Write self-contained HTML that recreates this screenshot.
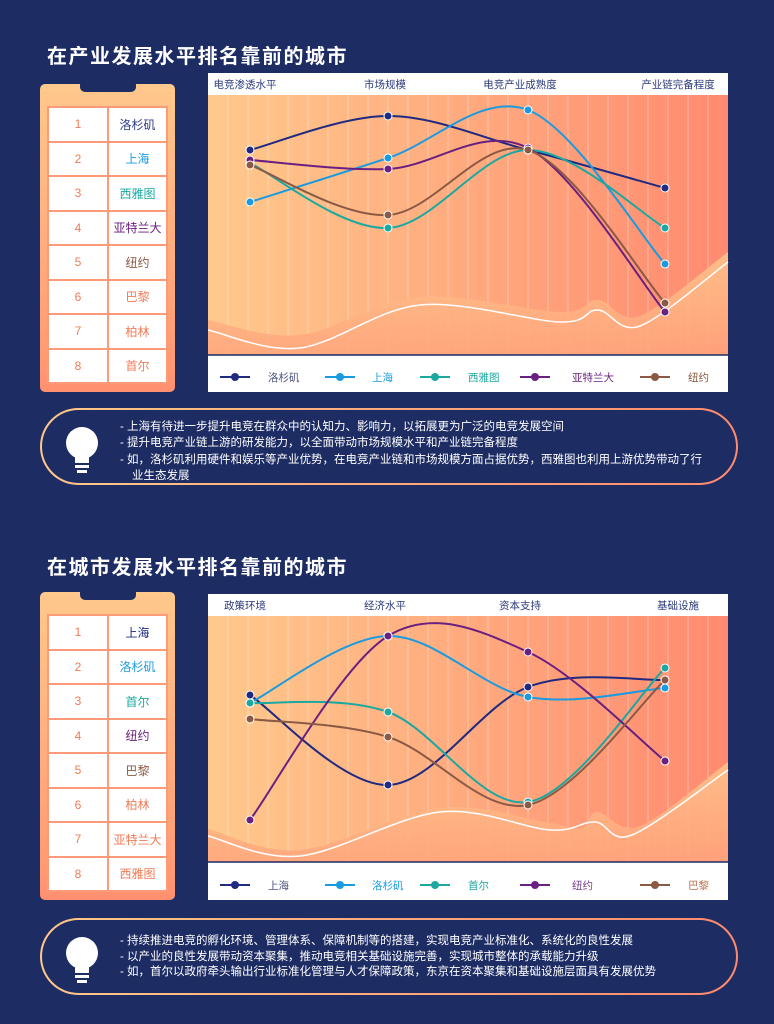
<!DOCTYPE html>
<html><head><meta charset="utf-8">
<style>
*{margin:0;padding:0;box-sizing:border-box}
body{width:774px;height:1024px;background:#1d2c63;font-family:"Liberation Sans","Noto Sans CJK SC",sans-serif;position:relative;overflow:hidden}
.title{position:absolute;left:47px;color:#fff;font-size:20px;font-weight:bold;letter-spacing:1.5px}
.card{position:absolute;left:40px;width:135px;border-radius:5px;background:linear-gradient(#ffc88c,#ff9a74 90%,#ff8f70)}
.notch{position:absolute;left:40px;top:0;width:56px;height:8px;background:#1d2c63;border-radius:0 0 5px 5px}
table{position:absolute;left:7px;top:22px;width:121px;border-collapse:collapse}
td{background:#fff;border:2px solid #ff9a78;height:34.5px;text-align:center;font-size:12px}
td.n{color:#f27a55;width:60px}
.box{position:absolute;left:40px;width:698px;height:77px;border-radius:39px;padding:2px;background:linear-gradient(90deg,#ffc88a,#ff8a6e)}
.box .in{width:100%;height:100%;border-radius:37px;background:#1d2c63;position:relative}
.box .tx{position:absolute;left:78px;top:9px;color:#fff;font-size:11.5px;line-height:16.3px;width:585px}
.tx div{padding-left:12px;text-indent:-12px}
</style></head><body>
<div class="title" style="top:40px">在产业发展水平排名靠前的城市</div>
<div class="card" style="top:84px;height:308px"><div class="notch"></div>
<table>
<tr><td class="n">1</td><td style="color:#2b3a8a">洛杉矶</td></tr>
<tr><td class="n">2</td><td style="color:#1a9be0">上海</td></tr>
<tr><td class="n">3</td><td style="color:#1ba8a0">西雅图</td></tr>
<tr><td class="n">4</td><td style="color:#6a2080">亚特兰大</td></tr>
<tr><td class="n">5</td><td style="color:#8b5a44">纽约</td></tr>
<tr><td class="n">6</td><td style="color:#f27a55">巴黎</td></tr>
<tr><td class="n">7</td><td style="color:#f27a55">柏林</td></tr>
<tr><td class="n">8</td><td style="color:#f27a55">首尔</td></tr>
</table></div>

<div class="title" style="top:551px">在城市发展水平排名靠前的城市</div>
<div class="card" style="top:592px;height:308px"><div class="notch"></div>
<table>
<tr><td class="n">1</td><td style="color:#1f2a80">上海</td></tr>
<tr><td class="n">2</td><td style="color:#1a9be0">洛杉矶</td></tr>
<tr><td class="n">3</td><td style="color:#1ba8a0">首尔</td></tr>
<tr><td class="n">4</td><td style="color:#6a2080">纽约</td></tr>
<tr><td class="n">5</td><td style="color:#8b5a44">巴黎</td></tr>
<tr><td class="n">6</td><td style="color:#f27a55">柏林</td></tr>
<tr><td class="n">7</td><td style="color:#f27a55">亚特兰大</td></tr>
<tr><td class="n">8</td><td style="color:#f27a55">西雅图</td></tr>
</table></div>

<svg id="sv" width="774" height="1024" style="position:absolute;left:0;top:0">
<defs>
<linearGradient id="bg" x1="0" x2="1"><stop offset="0" stop-color="#ffc98c"/><stop offset="1" stop-color="#ff8a70"/></linearGradient>
<linearGradient id="wv" x1="0" x2="0" y1="0" y2="1"><stop offset="0" stop-color="#ffc68c"/><stop offset="1" stop-color="#ffa47c"/></linearGradient>
</defs>
<g id="g"></g>
</svg>

<div class="box" style="top:408px"><div class="in">
<svg width="40" height="50" style="position:absolute;left:20px;top:15px"><circle cx="20" cy="18" r="16" fill="#fff"/><rect x="13" y="28" width="14" height="10" fill="#fff"/><rect x="13" y="40" width="14" height="3" fill="#fff"/><rect x="15" y="45" width="10" height="3" fill="#fff"/></svg>
<div class="tx"><div>- 上海有待进一步提升电竞在群众中的认知力、影响力，以拓展更为广泛的电竞发展空间</div><div>- 提升电竞产业链上游的研发能力，以全面带动市场规模水平和产业链完备程度</div><div>- 如，洛杉矶利用硬件和娱乐等产业优势，在电竞产业链和市场规模方面占据优势，西雅图也利用上游优势带动了行业生态发展</div></div>
</div></div>
<div class="box" style="top:918px"><div class="in">
<svg width="40" height="50" style="position:absolute;left:20px;top:15px"><circle cx="20" cy="18" r="16" fill="#fff"/><rect x="13" y="28" width="14" height="10" fill="#fff"/><rect x="13" y="40" width="14" height="3" fill="#fff"/><rect x="15" y="45" width="10" height="3" fill="#fff"/></svg>
<div class="tx" style="top:14px;line-height:15.5px;width:620px"><div>- 持续推进电竞的孵化环境、管理体系、保障机制等的搭建，实现电竞产业标准化、系统化的良性发展</div><div>- 以产业的良性发展带动资本聚集，推动电竞相关基础设施完善，实现城市整体的承载能力升级</div><div>- 如，首尔以政府牵头输出行业标准化管理与人才保障政策，东京在资本聚集和基础设施层面具有发展优势</div></div>
</div></div>

<script>
var g=document.getElementById('g'),h='';
var X=[250,388,528,665];
function cr(p){var d='M'+p[0][0]+','+p[0][1];for(var i=0;i<p.length-1;i++){var a=p[i-1]||p[i],b=p[i],c=p[i+1],e=p[i+2]||c;d+=' C'+(b[0]+(c[0]-a[0])/6)+','+(b[1]+(c[1]-a[1])/6)+' '+(c[0]-(e[0]-b[0])/6)+','+(c[1]-(e[1]-b[1])/6)+' '+c[0]+','+c[1];}return d;}
function chart(top,plotTop,plotBot,bot,heads,series,wave,wline){
 h+='<rect x="208" y="'+top+'" width="520" height="'+(bot-top)+'" fill="#fff"/>';
 h+='<rect x="208" y="'+plotTop+'" width="520" height="'+(plotBot-plotTop)+'" fill="url(#bg)"/>';
 for(var x=228;x<728;x+=20)h+='<line x1="'+x+'" x2="'+x+'" y1="'+plotTop+'" y2="'+plotBot+'" stroke="#fff" stroke-opacity=".35" stroke-width="1"/>';
 h+='<path d="'+cr(wave)+' L728,'+plotBot+' L208,'+plotBot+'Z" fill="url(#wv)" opacity=".85"/>';
 h+='<path d="'+cr(wline)+'" fill="none" stroke="#fff" stroke-width="1.5"/>';
 h+='<line x1="208" x2="728" y1="'+plotBot+'" y2="'+plotBot+'" stroke="#1d2c63" stroke-width="1.5"/>';
 for(var i=0;i<4;i++)h+='<text x="'+[245,385,520,678][i]+'" y="'+(top+15)+'" font-size="10.5" fill="#2b3a7a" text-anchor="middle">'+heads[i]+'</text>';
 var ly=bot-15, lx=[220,325,420,520,640], tx=[268,372,468,572,688];
 series.forEach(function(s,k){var pts=s.y.map(function(y,i){return[X[i],y]});
  h+='<path d="'+cr(pts)+'" fill="none" stroke="'+s.c+'" stroke-width="2"/>';
  pts.forEach(function(p){h+='<circle cx="'+p[0]+'" cy="'+p[1]+'" r="4" fill="'+s.c+'" stroke="#fff" stroke-width="1"/>';});
  h+='<line x1="'+lx[k]+'" x2="'+(lx[k]+30)+'" y1="'+ly+'" y2="'+ly+'" stroke="'+s.c+'" stroke-width="2"/><circle cx="'+(lx[k]+15)+'" cy="'+ly+'" r="4" fill="'+s.c+'"/>';
  h+='<text x="'+tx[k]+'" y="'+(ly+4)+'" font-size="10.5" fill="'+(s.t||s.c)+'">'+s.n+'</text>';
 });
}
var C=['#1f2a80','#1a9be0','#1ba8a0','#6a2080','#8b5a44'];
chart(73,95,355,392,['电竞渗透水平','市场规模','电竞产业成熟度','产业链完备程度'],[
 {n:'洛杉矶',c:C[0],t:'#4a5080',y:[150,116,150,188]},
 {n:'上海',c:C[1],y:[202,158,110,264]},
 {n:'西雅图',c:C[2],y:[163,228,150,228]},
 {n:'亚特兰大',c:C[3],y:[160,169,148,312]},
 {n:'纽约',c:C[4],y:[165,215,150,303]}],
 [[208,320],[300,335],[420,297],[560,312],[598,300],[640,316],[728,252]],
 [[208,330],[300,348],[420,305],[560,322],[598,310],[640,326],[728,262]]);
chart(594,616,862,900,['政策环境','经济水平','资本支持','基础设施'],[
 {n:'上海',c:C[0],t:'#4a5080',y:[695,785,687,680]},
 {n:'洛杉矶',c:C[1],y:[703,636,697,688]},
 {n:'首尔',c:C[2],y:[703,712,802,668]},
 {n:'纽约',c:C[3],t:'#7a4090',y:[820,636,652,761]},
 {n:'巴黎',c:C[4],t:'#c07050',y:[719,737,805,680]}],
 [[208,829],[300,850],[440,808],[545,822],[582,828],[597,812],[640,826],[728,762]],
 [[208,836],[300,856],[440,812],[550,830],[595,822],[632,835],[728,770]]);
g.innerHTML=h;
</script>
</body></html>
